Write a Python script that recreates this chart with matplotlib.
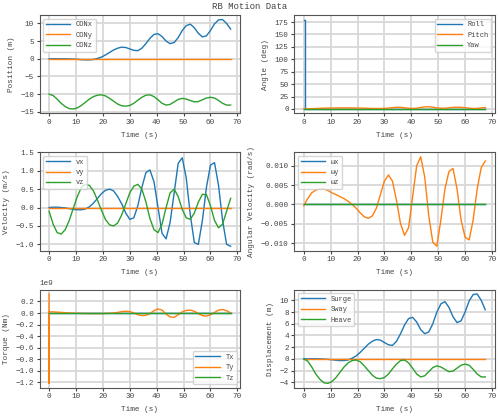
import numpy as np
import matplotlib
matplotlib.use('Agg')
import matplotlib.pyplot as plt

plt.rcParams['font.family'] = ['Liberation Mono', 'DejaVu Sans Mono']
plt.rcParams['font.size'] = 5.5
plt.rcParams['text.color'] = '#444444'
plt.rcParams['axes.labelcolor'] = '#444444'
plt.rcParams['xtick.color'] = '#444444'
plt.rcParams['ytick.color'] = '#444444'
plt.rcParams['lines.linewidth'] = 1.0

# time base (s)
t = np.arange(0, 67.6, 1.5)

surge = [0, 0, 0, 0, -0.02, -0.05, -0.1, -0.15, -0.25, -0.3, -0.3, -0.2, 0.1, 0.5, 1.1, 1.8,
         2.5, 3.0, 3.3, 3.2, 2.8, 2.4, 2.3, 3.0, 4.3, 5.8, 6.9, 7.1, 6.3, 5.0, 4.3, 4.6,
         6.0, 8.0, 9.4, 9.8, 8.8, 7.2, 6.2, 6.5, 8.0, 9.9, 11.0, 11.1, 10.0, 8.4]
sway = [0.0] * 46
heave = [0, -0.4, -1.4, -2.6, -3.5, -4.1, -4.2, -3.9, -3.2, -2.3, -1.4, -0.7, -0.3, -0.2, -0.5, -1.2,
         -2.0, -2.8, -3.3, -3.4, -3.2, -2.6, -1.7, -0.9, -0.3, -0.2, -0.7, -1.6, -2.6, -3.1, -2.9, -2.2,
         -1.5, -1.2, -1.4, -1.8, -2.2, -2.1, -1.6, -1.1, -0.9, -1.1, -1.8, -2.6, -3.1, -3.1]
con_x = surge
con_y = sway
con_z = [h - 10 for h in heave]

roll_t = [0, 0.5, 0.5, 67.5]
roll = [180, 180, 0, 0]
pitch = [0, 0.3, 0.7, 1.0, 1.3, 1.6, 1.8, 2.0, 2.1, 2.2, 2.2, 2.2, 2.1, 2.0, 1.8, 1.6,
         1.3, 1.1, 1.0, 1.0, 1.2, 1.8, 2.7, 3.4, 3.3, 2.5, 1.5, 1.0, 1.5, 3.0, 4.3, 4.5,
         3.5, 2.2, 1.5, 1.6, 2.3, 3.2, 3.5, 3.3, 2.5, 1.6, 1.0, 1.2, 2.2, 3.0]
yaw = [0.0] * 46

vx = [0, 0.01, 0.01, 0, -0.01, -0.03, -0.05, -0.06, -0.06, -0.04, 0.02, 0.12, 0.25, 0.38, 0.47, 0.5,
      0.45, 0.3, 0.1, -0.15, -0.32, -0.28, 0.05, 0.55, 0.95, 1.02, 0.7, 0.0, -0.7, -0.85, -0.4, 0.4,
      1.2, 1.35, 0.8, -0.2, -0.95, -1.0, -0.35, 0.55, 1.15, 1.22, 0.6, -0.35, -1.0, -1.05]
vy = [0.0] * 46
vz = [-0.1, -0.45, -0.68, -0.72, -0.6, -0.35, -0.02, 0.3, 0.55, 0.63, 0.6, 0.45, 0.2, -0.08, -0.33, -0.47,
      -0.5, -0.42, -0.2, 0.1, 0.4, 0.58, 0.63, 0.5, 0.15, -0.3, -0.6, -0.68, -0.45, 0.0, 0.4, 0.5,
      0.3, -0.05, -0.28, -0.32, -0.15, 0.15, 0.36, 0.35, 0.05, -0.35, -0.55, -0.45, -0.1, 0.25]

wx = [0.0] * 46
wy = [-0.0003, 0.0015, 0.003, 0.0037, 0.004, 0.004, 0.0036, 0.003, 0.0025, 0.002, 0.0015, 0.0008, 0.0, -0.001,
      -0.0022, -0.0032, -0.0036, -0.003, -0.001, 0.0025, 0.006, 0.0076, 0.006, 0.001, -0.005, -0.008, -0.006,
      0.002, 0.01, 0.0123, 0.007, -0.003, -0.0098, -0.0108, -0.004, 0.004, 0.0085, 0.0093, 0.004, -0.004,
      -0.0085, -0.0092, -0.004, 0.004, 0.0095, 0.0112]
wz = [0.0] * 46

# torque in units of 1e9 Nm, first two points are the start-up spike at t=0
ty_spike = [0.33, -1.22]
tx = [0.0] * 46
ty = [0.02, 0.02, 0.015, 0.01, 0.005, 0, -0.003, -0.005, -0.007, -0.008, -0.01, -0.01, -0.01, -0.01,
      -0.008, -0.005, 0, 0.01, 0.025, 0.03, 0.025, 0.0, -0.03, -0.045, -0.04, -0.01, 0.04, 0.07, 0.05,
      -0.02, -0.07, -0.075, -0.03, 0.02, 0.045, 0.05, 0.03, -0.01, -0.045, -0.055, -0.03, 0.01, 0.05,
      0.06, 0.04, 0.0]
tz = [0.0] * 46

fig, axs = plt.subplots(3, 2, figsize=(5, 4.16), dpi=100)
fig.suptitle('RB Motion Data', fontsize=6.5, y=0.995)


def style(ax, ylabel, loc, yticks):
    ax.set_xlabel('Time (s)')
    ax.set_ylabel(ylabel)
    ax.grid(True, color='#d8d8d8', linewidth=1.3)
    ax.legend(loc=loc, fontsize=5, handlelength=3.5)
    ax.set_xlim(-3.5, 71)
    ax.set_xticks(range(0, 71, 10))
    ax.set_yticks(yticks)
    ax.tick_params(length=2, pad=2)
    for s in ax.spines.values():
        s.set_color('#555555')


ax = axs[0, 0]
ax.plot(t, con_x, label='CONx')
ax.plot(t, con_y, label='CONy')
ax.plot(t, con_z, label='CONz')
style(ax, 'Position (m)', 'upper left', np.arange(-15, 11, 5))

ax = axs[0, 1]
ax.plot(roll_t, roll, label='Roll')
ax.plot(t, pitch, label='Pitch')
ax.plot(t, yaw, label='Yaw')
style(ax, 'Angle (deg)', 'upper right', range(0, 176, 25))

ax = axs[1, 0]
ax.plot(t, vx, label='vx')
ax.plot(t, vy, label='vy')
ax.plot(t, vz, label='vz')
style(ax, 'Velocity (m/s)', 'upper left', np.arange(-1.0, 1.51, 0.5))

ax = axs[1, 1]
ax.plot(t, wx, label='ωx')
ax.plot(t, wy, label='ωy')
ax.plot(t, wz, label='ωz')
style(ax, 'Angular Velocity (rad/s)', 'upper left', [-0.01, -0.005, 0, 0.005, 0.01])

ax = axs[2, 0]
t_torque = np.concatenate([[0, 0], t])
ax.plot(t, np.array(tx) * 1e9, label='Tx')
ax.plot(t_torque, np.array(ty_spike + ty) * 1e9, label='Ty')
ax.plot(t, np.array(tz) * 1e9, label='Tz')
style(ax, 'Torque (Nm)', 'lower right', np.arange(-1.2, 0.21, 0.2) * 1e9)
ax.yaxis.get_offset_text().set_fontsize(5.5)

ax = axs[2, 1]
ax.plot(t, surge, label='Surge')
ax.plot(t, sway, label='Sway')
ax.plot(t, heave, label='Heave')
style(ax, 'Displacement (m)', 'upper left', np.arange(-4, 11, 2))

fig.tight_layout(pad=0.4, h_pad=0.6, w_pad=0.8)
fig.savefig('out.png', dpi=100)
